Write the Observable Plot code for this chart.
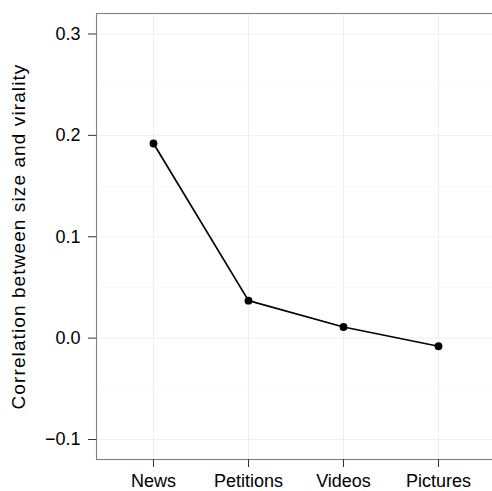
<!DOCTYPE html>
<html><head><meta charset="utf-8">
<script src="https://cdn.jsdelivr.net/npm/d3@7"></script>
<script src="https://cdn.jsdelivr.net/npm/@observablehq/plot@0.6"></script>
<style>
html,body{margin:0;padding:0;background:#fff;overflow:hidden;}
#chart svg{display:block;}
</style>
</head><body><div id="chart"></div>
<script>
const categories = ["News", "Petitions", "Videos", "Pictures"];
const correlations = [0.192, 0.037, 0.011, -0.008];
const yTicks = [-0.1, 0.0, 0.1, 0.2, 0.3];
const yMinorTicks = [-0.05, 0.05, 0.15, 0.25];
const yLabel = "Correlation between size and virality";

const data = categories.map((c, i) => ({category: c, value: correlations[i]}));

const chart = Plot.plot({
  width: 492,
  height: 491,
  marginLeft: 96,
  marginRight: 0,
  marginTop: 13,
  marginBottom: 32,
  style: {fontFamily: "'Liberation Sans', Arial, sans-serif", fontSize: "18px", color: "#000", background: "#fff"},
  // panel continues past the right edge of the picture, as in the reference
  x: {type: "point", domain: categories, padding: 0.584, align: 0.5135, label: null},
  y: {domain: [-0.1197, 0.3202], label: null},
  marks: [
    Plot.gridY(yMinorTicks, {stroke: "#fafafa", strokeOpacity: 1, strokeWidth: 1.2}),
    Plot.gridY(yTicks, {stroke: "#ebebeb", strokeOpacity: 1, strokeWidth: 0.8}),
    Plot.gridX(categories, {stroke: "#ebebeb", strokeOpacity: 1, strokeWidth: 0.8}),
    Plot.frame({stroke: "#808080", strokeWidth: 1.1, insetRight: -5}),
    Plot.axisY(yTicks, {tickSize: 8, tickPadding: 8, tickFormat: d => d.toFixed(1).replace("-", "\u2212"), stroke: "#333", fill: "#000", fontSize: 18, label: null}),
    Plot.axisX(categories, {tickSize: 8, tickPadding: 7, stroke: "#333", fill: "#000", fontSize: 18, label: null}),
    Plot.line(data, {x: "category", y: "value", stroke: "#000", strokeWidth: 1.7}),
    Plot.dot(data, {x: "category", y: "value", fill: "#000", r: 3.9}),
    Plot.text([yLabel], {frameAnchor: "left", dx: -78, rotate: -90, textAnchor: "middle", text: d => d, fontSize: 19, fill: "#000"})
  ]
});
document.getElementById("chart").appendChild(chart);
d3.select(chart).selectAll("text").filter(function() { return this.textContent === yLabel; })
  .style("letter-spacing", "1.1px");
</script>
</body></html>
